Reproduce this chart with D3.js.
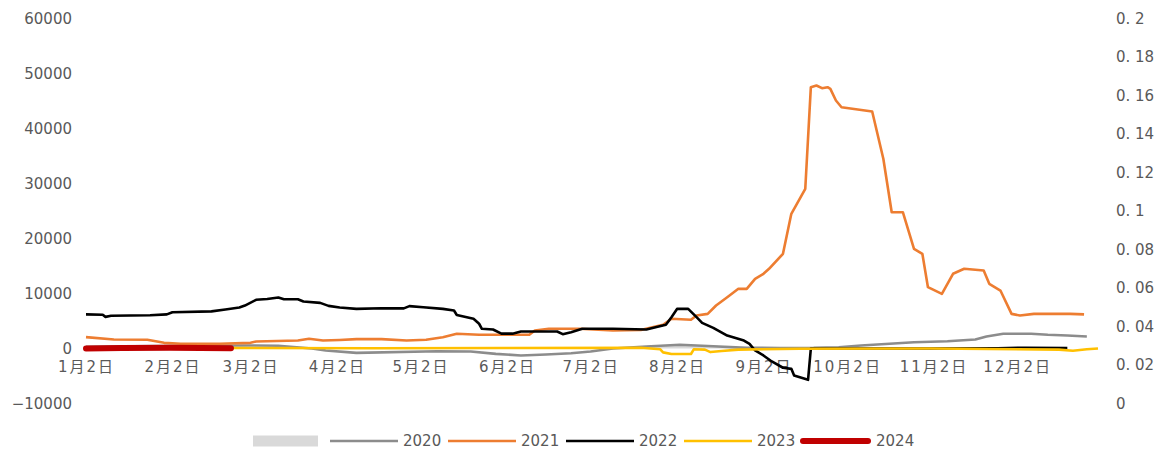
<!DOCTYPE html>
<html>
<head>
<meta charset="utf-8">
<script src="https://cdn.jsdelivr.net/npm/d3@7"></script>
<style>
  html, body { margin: 0; padding: 0; background: #ffffff; }
  svg { display: block; }
</style>
</head>
<body>
<svg id="chart" width="1156" height="452"></svg>
<script>
// Daily series, one per year, as [month-day, value] keypoints
const s2020 = [
  ["01-02", 300], ["02-05", 500], ["03-01", 550], ["03-12", 500], ["03-24", 0],
  ["03-29", -360], ["04-09", -790], ["05-08", -500], ["05-20", -550], ["05-29", -970],
  ["06-07", -1270], ["06-16", -1100], ["06-25", -850], ["07-02", -550], ["07-10", 0],
  ["07-22", 360], ["08-03", 670], ["08-09", 550], ["08-15", 420], ["08-27", 120],
  ["09-08", 100], ["09-20", 120], ["09-29", 240], ["10-07", 550], ["10-26", 1150],
  ["11-07", 1330], ["11-17", 1640], ["11-21", 2180], ["11-27", 2670], ["12-07", 2670],
  ["12-13", 2490], ["12-20", 2360], ["12-27", 2180]
];
const s2021 = [
  ["01-02", 2060], ["01-12", 1640], ["01-24", 1580], ["01-30", 1030], ["02-05", 850],
  ["02-19", 850], ["03-02", 1030], ["03-04", 1270], ["03-19", 1450], ["03-23", 1760],
  ["03-28", 1450], ["04-03", 1550], ["04-09", 1700], ["04-18", 1700], ["04-27", 1450],
  ["05-04", 1580], ["05-10", 2060], ["05-15", 2670], ["05-23", 2490], ["06-10", 2490],
  ["06-12", 3270], ["06-17", 3580], ["06-28", 3580], ["07-10", 3270], ["07-20", 3350],
  ["07-28", 4300], ["07-31", 5400], ["08-07", 5220], ["08-09", 6000], ["08-13", 6300],
  ["08-16", 7820], ["08-20", 9330], ["08-24", 10850], ["08-27", 10850], ["08-30", 12670],
  ["09-02", 13580], ["09-04", 14490], ["09-09", 17220], ["09-12", 24490], ["09-17", 29040],
  ["09-19", 47510], ["09-21", 47820], ["09-23", 47330], ["09-25", 47510], ["09-26", 47200],
  ["09-28", 45090], ["09-30", 43870], ["10-11", 43090], ["10-15", 34490], ["10-18", 24780],
  ["10-22", 24780], ["10-26", 18130], ["10-29", 17220], ["10-31", 11150], ["11-05", 9940],
  ["11-09", 13580], ["11-13", 14490], ["11-20", 14180], ["11-22", 11760], ["11-26", 10540],
  ["11-30", 6300], ["12-03", 6000], ["12-08", 6300], ["12-21", 6300], ["12-26", 6200]
];
const s2022 = [
  ["01-02", 6200], ["01-08", 6150], ["01-09", 5750], ["01-11", 5950], ["01-25", 6050],
  ["01-31", 6200], ["02-02", 6600], ["02-16", 6750], ["02-21", 7100], ["02-26", 7450],
  ["02-28", 7800], ["03-04", 8850], ["03-08", 9000], ["03-12", 9270], ["03-14", 8950],
  ["03-19", 8950], ["03-21", 8550], ["03-27", 8300], ["03-30", 7750], ["04-03", 7450],
  ["04-09", 7200], ["04-18", 7330], ["04-26", 7300], ["04-28", 7700], ["05-03", 7500],
  ["05-10", 7200], ["05-14", 6900], ["05-15", 6100], ["05-21", 5400], ["05-23", 4500],
  ["05-24", 3580], ["05-28", 3450], ["05-31", 2700], ["06-04", 2700], ["06-07", 3090],
  ["06-20", 3090], ["06-22", 2600], ["06-25", 2960], ["06-29", 3580], ["07-10", 3580],
  ["07-22", 3450], ["07-29", 4300], ["07-31", 5700], ["08-02", 7200], ["08-06", 7200],
  ["08-09", 5700], ["08-11", 4670], ["08-15", 3760], ["08-20", 2360], ["08-26", 1450],
  ["08-28", 850], ["08-30", -360], ["09-02", -1270], ["09-05", -2360], ["09-09", -3500],
  ["09-12", -3700], ["09-13", -4900], ["09-18", -5700], ["09-19", 0], ["10-01", 0],
  ["11-01", 0], ["11-25", 50], ["12-05", 150], ["12-20", 100]
];
const s2023 = [
  ["01-02", 100], ["03-01", 100], ["04-15", 50], ["06-01", 100], ["07-20", 150],
  ["07-27", -150], ["07-28", -700], ["07-31", -1000], ["08-07", -1000], ["08-08", -150],
  ["08-12", -200], ["08-14", -650], ["08-18", -450], ["08-24", -200], ["09-15", -50],
  ["11-01", 0], ["12-17", -200], ["12-22", -400], ["12-27", -150], ["12-31", 0]
];
const s2024 = [
  ["01-02", 0], ["01-15", 100], ["02-01", 150], ["02-12", 100], ["02-23", 50]
];
// Light grey band series (unlabelled legend entry)
const band = [
  ["07-20", 0], ["07-25", 300], ["08-03", 600], ["08-15", 450], ["08-27", 150], ["09-05", 0]
];

// Axis ticks
const leftTicks = [-10000, 0, 10000, 20000, 30000, 40000, 50000, 60000];
const rightTicks = [0, 0.02, 0.04, 0.06, 0.08, 0.1, 0.12, 0.14, 0.16, 0.18, 0.2];
const monthTicks = ["01-02", "02-02", "03-02", "04-02", "05-02", "06-02",
                    "07-02", "08-02", "09-02", "10-02", "11-02", "12-02"];
const monthLabels = ["1月2日", "2月2日", "3月2日", "4月2日", "5月2日", "6月2日",
                     "7月2日", "8月2日", "9月2日", "10月2日", "11月2日", "12月2日"];

const seriesNames = ["2020", "2021", "2022", "2023", "2024"];
const seriesColors = ["#8c8c8c", "#ed7d31", "#000000", "#ffc000", "#c00000"];
const seriesData = [s2020, s2021, s2022, s2023, s2024];

const parseMD = md => d3.timeParse("%Y-%m-%d")("2021-" + md);

const svg = d3.select("#chart");
const textColor = "#595959";
const axisFont = "'DejaVu Sans', sans-serif";

const x = d3.scaleTime()
  .domain([parseMD("01-02"), parseMD("12-31")])
  .range([86, 1098]);
const y = d3.scaleLinear().domain([-10000, 60000]).range([403.5, 18.5]);
const y2 = d3.scaleLinear().domain([0, 0.2]).range([403.5, 18.5]);

// Left axis
const leftAxis = svg.append("g")
  .attr("transform", "translate(80,0)")
  .call(d3.axisLeft(y).tickValues(leftTicks).tickSize(0).tickPadding(8).tickFormat(d3.format("d")));
leftAxis.select(".domain").remove();
leftAxis.selectAll("text")
  .attr("fill", textColor)
  .style("font-family", axisFont)
  .style("font-size", "15px");

// Right axis
const fmtRight = d => d === 0 ? "0" : d3.format(".2~f")(d).replace(".", ". ");
const rightAxis = svg.append("g")
  .attr("transform", "translate(1108,0)")
  .call(d3.axisRight(y2).tickValues(rightTicks).tickSize(0).tickPadding(8).tickFormat(fmtRight));
rightAxis.select(".domain").remove();
rightAxis.selectAll("text")
  .attr("fill", textColor)
  .style("font-family", axisFont)
  .style("font-size", "15px");

// Bottom (date) axis along zero
const monthDates = monthTicks.map(parseMD);
const bottomAxis = svg.append("g")
  .attr("transform", `translate(0,${y(0)})`)
  .call(d3.axisBottom(x).tickValues(monthDates).tickSize(0)
    .tickFormat((d, i) => monthLabels[i]));
bottomAxis.select(".domain").remove();
bottomAxis.selectAll("text")
  .attr("fill", textColor)
  .attr("y", 18.5)
  .attr("dy", "0.35em")
  .style("font-family", "'DejaVu Sans', 'Noto Sans CJK SC', sans-serif")
  .style("font-size", "15px")
  .style("letter-spacing", "2px");

// Grey band
svg.append("path")
  .datum(band)
  .attr("fill", "#d9d9d9")
  .attr("d", d3.area()
    .x(d => x(parseMD(d[0])))
    .y0(y(0))
    .y1(d => y(d[1])));

// Year lines
const line = d3.line()
  .x(d => x(parseMD(d[0])))
  .y(d => y(d[1]));

seriesData.forEach((data, i) => {
  svg.append("path")
    .datum(data)
    .attr("fill", "none")
    .attr("stroke", seriesColors[i])
    .attr("stroke-width", i === 4 ? 6 : 2.6)
    .attr("stroke-linejoin", "round")
    .attr("stroke-linecap", i === 4 ? "round" : "butt")
    .attr("d", line);
});

// Legend
const legend = svg.append("g").attr("transform", "translate(0,441)");
legend.append("rect")
  .attr("x", 253).attr("y", -5.5).attr("width", 65).attr("height", 11)
  .attr("fill", "#d9d9d9");
const legendX = [330, 448, 566, 684, 800];
seriesNames.forEach((name, i) => {
  const g = legend.append("g").attr("transform", `translate(${legendX[i]},0)`);
  g.append("line")
    .attr("x1", i === 4 ? 3 : 0).attr("x2", i === 4 ? 68 : 68)
    .attr("y1", 0).attr("y2", 0)
    .attr("stroke", seriesColors[i])
    .attr("stroke-width", i === 4 ? 6 : 2.6)
    .attr("stroke-linecap", i === 4 ? "round" : "butt");
  g.append("text")
    .attr("x", i === 4 ? 76 : 73)
    .attr("y", 0)
    .attr("dy", "0.35em")
    .attr("fill", textColor)
    .style("font-family", axisFont)
    .style("font-size", "15px")
    .text(name);
});
</script>
</body>
</html>
